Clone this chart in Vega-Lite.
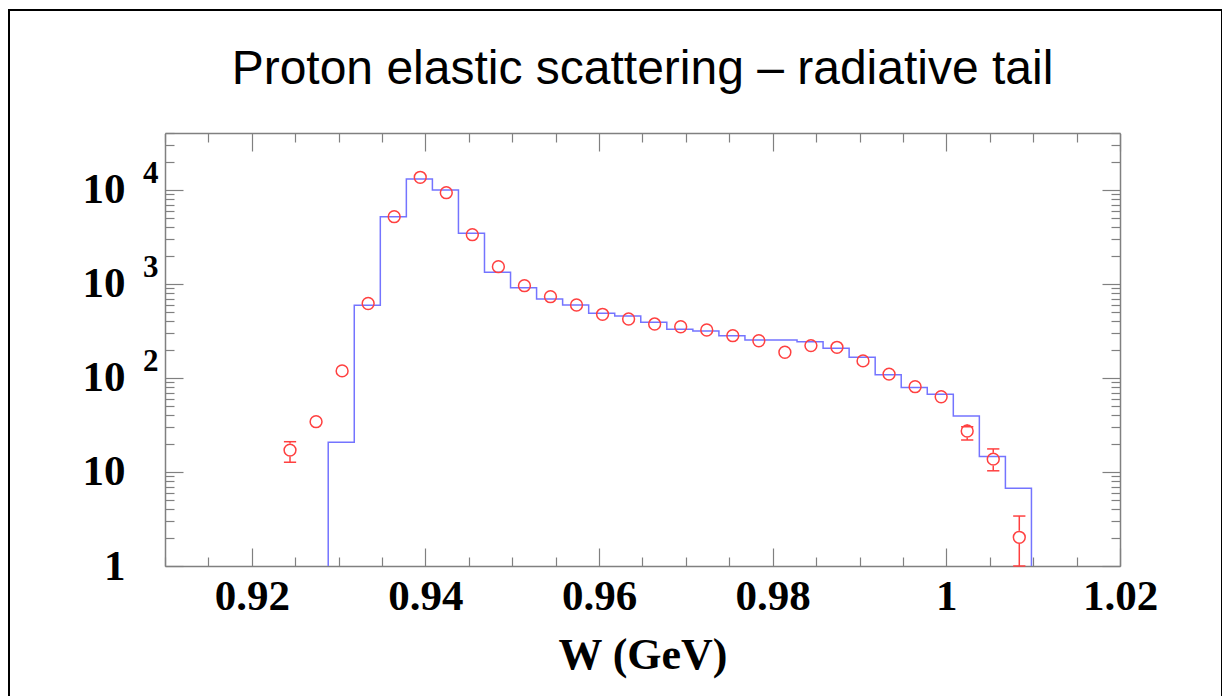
{
  "$schema": "https://vega.github.io/schema/vega-lite/v6.json",
  "width": 1213,
  "height": 689,
  "autosize": {"type": "none"},
  "padding": {"left": 9, "top": 10, "right": 0, "bottom": -3},
  "background": "white",
  "config": {
    "view": {"stroke": "black", "strokeWidth": 2},
    "axis": {
      "grid": false,
      "labelFont": "Liberation Serif",
      "labelFontWeight": "bold",
      "labelColor": "black",
      "titleFont": "Liberation Serif",
      "titleFontWeight": "bold",
      "titleColor": "black",
      "domainColor": "#808080",
      "domainWidth": 1.5,
      "tickColor": "#808080",
      "tickWidth": 1.2,
      "labelOverlap": false,
      "labelFlush": false
    }
  },
  "title": {
    "text": "Proton elastic scattering – radiative tail",
    "font": "Liberation Sans",
    "fontSize": 48,
    "fontWeight": "normal",
    "color": "black",
    "anchor": "middle",
    "frame": "group",
    "offset": -75,
    "baseline": "alphabetic",
    "dx": 27,
    "dy": 47
  },
  "datasets": {
    "hist": [
      {"W": 0.9288, "N": 1},
      {"W": 0.9288, "N": 20.7},
      {"W": 0.9318, "N": 593},
      {"W": 0.9348, "N": 5200},
      {"W": 0.9378, "N": 13100},
      {"W": 0.9408, "N": 10000},
      {"W": 0.9438, "N": 3460},
      {"W": 0.9468, "N": 1332},
      {"W": 0.9498, "N": 914},
      {"W": 0.9528, "N": 692},
      {"W": 0.9558, "N": 598},
      {"W": 0.9588, "N": 488},
      {"W": 0.9618, "N": 457},
      {"W": 0.9648, "N": 392},
      {"W": 0.9678, "N": 330},
      {"W": 0.9708, "N": 316},
      {"W": 0.9738, "N": 282},
      {"W": 0.9768, "N": 254},
      {"W": 0.9798, "N": 254},
      {"W": 0.9828, "N": 243},
      {"W": 0.9858, "N": 207},
      {"W": 0.9888, "N": 166},
      {"W": 0.9918, "N": 108},
      {"W": 0.9948, "N": 79},
      {"W": 0.9978, "N": 67},
      {"W": 1.0008, "N": 39.4},
      {"W": 1.0038, "N": 14.6},
      {"W": 1.0068, "N": 6.7},
      {"W": 1.0098, "N": 6.7},
      {"W": 1.0098, "N": 1}
    ],
    "pts": [
      {"W": 0.9244, "N": 17.1, "lo": 12.7, "hi": 21.0},
      {"W": 0.9274, "N": 34.3},
      {"W": 0.9304, "N": 119},
      {"W": 0.9334, "N": 620},
      {"W": 0.9364, "N": 5200},
      {"W": 0.9394, "N": 13650},
      {"W": 0.9424, "N": 9360},
      {"W": 0.9454, "N": 3345},
      {"W": 0.9484, "N": 1528},
      {"W": 0.9514, "N": 959},
      {"W": 0.9544, "N": 733},
      {"W": 0.9574, "N": 598},
      {"W": 0.9604, "N": 476},
      {"W": 0.9634, "N": 424},
      {"W": 0.9664, "N": 375},
      {"W": 0.9694, "N": 351},
      {"W": 0.9724, "N": 324},
      {"W": 0.9754, "N": 282},
      {"W": 0.9784, "N": 249},
      {"W": 0.9814, "N": 188},
      {"W": 0.9844, "N": 221},
      {"W": 0.9874, "N": 212},
      {"W": 0.9904, "N": 152},
      {"W": 0.9934, "N": 110},
      {"W": 0.9964, "N": 80.8},
      {"W": 0.9994, "N": 63.2},
      {"W": 1.0024, "N": 27.3, "lo": 21.9, "hi": 30.3},
      {"W": 1.0054, "N": 13.7, "lo": 10.3, "hi": 17.6},
      {"W": 1.0084, "N": 2.02, "lo": 1, "hi": 3.4}
    ]
  },
  "layer": [
    {
      "data": {"name": "hist"},
      "mark": {"type": "line", "interpolate": "step-after", "color": "#7474ff", "strokeWidth": 1.5},
      "encoding": {
        "x": {
          "field": "W", "type": "quantitative",
          "scale": {"type": "linear", "domain": [0.91, 1.02], "range": [156, 1111], "nice": false, "zero": false},
          "axis": {
            "orient": "bottom", "offset": -133,
            "values": [0.91, 0.915, 0.92, 0.925, 0.93, 0.935, 0.94, 0.945, 0.95, 0.955, 0.96, 0.965, 0.97, 0.975, 0.98, 0.985, 0.99, 0.995, 1, 1.005, 1.01, 1.015, 1.02],
            "ticks": false, "domain": true, "format": "~g",
            "labelExpr": "abs(datum.value*50 - round(datum.value*50)) < 0.001 ? datum.label : ''",
            "labelFontSize": 43, "labelBaseline": "alphabetic", "labelPadding": 43, "labelAlign": "center",
            "title": "W (GeV)", "titleFontSize": 44, "titleBaseline": "alphabetic", "titleY": 102
          }
        },
        "y": {
          "field": "N", "type": "quantitative",
          "scale": {"type": "log", "domain": [1, 40000], "range": [556, 123.4], "nice": false},
          "axis": {
            "orient": "left", "offset": -156,
            "values": [1, 10, 100, 1000, 10000],
            "ticks": false, "domain": true,
            "labelExpr": "datum.value == 1 ? '1' : '10'",
            "labelFontSize": 43, "labelPadding": 40, "title": null
          }
        },
        "order": {"value": null}
      }
    },
    {
      "data": {"name": "pts"},
      "mark": {"type": "point", "shape": "circle", "filled": false, "size": 140, "stroke": "#ff4040", "strokeWidth": 1.5, "opacity": 1},
      "encoding": {
        "x": {
          "field": "W", "type": "quantitative",
          "scale": {"type": "linear", "domain": [0.91, 1.02], "range": [156, 1111], "nice": false, "zero": false},
          "axis": {
            "orient": "top", "offset": -123,
            "values": [0.91, 0.915, 0.92, 0.925, 0.93, 0.935, 0.94, 0.945, 0.95, 0.955, 0.96, 0.965, 0.97, 0.975, 0.98, 0.985, 0.99, 0.995, 1, 1.005, 1.01, 1.015, 1.02],
            "labels": false, "domain": true,
            "tickSize": {"condition": {"test": "abs(datum.value*50 - round(datum.value*50)) < 0.001", "value": -18}, "value": -9},
            "title": null
          }
        },
        "y": {
          "field": "N", "type": "quantitative",
          "scale": {"type": "log", "domain": [1, 40000], "range": [556, 123.4], "nice": false},
          "axis": {
            "orient": "right", "offset": -102,
            "values": [1, 2, 3, 4, 5, 6, 7, 8, 9, 10, 20, 30, 40, 50, 60, 70, 80, 90, 100, 200, 300, 400, 500, 600, 700, 800, 900, 1000, 2000, 3000, 4000, 5000, 6000, 7000, 8000, 9000, 10000, 20000, 30000, 40000],
            "labels": false, "domain": true,
            "tickSize": {"condition": {"test": "abs(log(datum.value)/LN10 - round(log(datum.value)/LN10)) < 0.001", "value": -18}, "value": -9},
            "title": null
          }
        }
      }
    },
    {
      "data": {"name": "pts"},
      "transform": [{"filter": "isValid(datum.hi)"}],
      "mark": {"type": "rule", "color": "#ff4040", "strokeWidth": 1.5, "yOffset": -6.5},
      "encoding": {
        "x": {
          "field": "W", "type": "quantitative",
          "scale": {"type": "linear", "domain": [0.91, 1.02], "range": [156, 1111], "nice": false, "zero": false},
          "axis": {
            "orient": "bottom", "offset": -133,
            "values": [0.91, 0.915, 0.92, 0.925, 0.93, 0.935, 0.94, 0.945, 0.95, 0.955, 0.96, 0.965, 0.97, 0.975, 0.98, 0.985, 0.99, 0.995, 1, 1.005, 1.01, 1.015, 1.02],
            "labels": false, "domain": false,
            "tickSize": {"condition": {"test": "abs(datum.value*50 - round(datum.value*50)) < 0.001", "value": -18}, "value": -9},
            "title": null
          }
        },
        "y": {
          "field": "N", "type": "quantitative",
          "scale": {"type": "log", "domain": [1, 40000], "range": [556, 123.4], "nice": false},
          "axis": {
            "orient": "left", "offset": -156,
            "values": [1, 2, 3, 4, 5, 6, 7, 8, 9, 10, 20, 30, 40, 50, 60, 70, 80, 90, 100, 200, 300, 400, 500, 600, 700, 800, 900, 1000, 2000, 3000, 4000, 5000, 6000, 7000, 8000, 9000, 10000, 20000, 30000, 40000],
            "labels": false, "domain": false,
            "tickSize": {"condition": {"test": "abs(log(datum.value)/LN10 - round(log(datum.value)/LN10)) < 0.001", "value": -18}, "value": -9},
            "title": null
          }
        },
        "y2": {"field": "hi"}
      }
    },
    {
      "data": {"name": "pts"},
      "transform": [{"filter": "isValid(datum.lo)"}],
      "mark": {"type": "rule", "color": "#ff4040", "strokeWidth": 1.5, "yOffset": 6.5},
      "encoding": {
        "x": {
          "field": "W", "type": "quantitative",
          "scale": {"type": "linear", "domain": [0.91, 1.02], "range": [156, 1111], "nice": false, "zero": false},
          "axis": null
        },
        "y": {
          "field": "N", "type": "quantitative",
          "scale": {"type": "log", "domain": [1, 40000], "range": [556, 123.4], "nice": false},
          "axis": {
            "orient": "left", "offset": -156,
            "values": [100, 1000, 10000],
            "ticks": false, "domain": false,
            "labelExpr": "datum.value == 100 ? '2' : (datum.value == 1000 ? '3' : '4')",
            "labelFontSize": 31, "labelPadding": 7, "labelOffset": -16, "labelAlign": "right",
            "title": null
          }
        },
        "y2": {"field": "lo"}
      }
    },
    {
      "data": {"name": "pts"},
      "transform": [
        {"filter": "isValid(datum.lo)"},
        {"fold": ["lo", "hi"], "as": ["end", "E"]}
      ],
      "mark": {"type": "point", "shape": "M-1,0L1,0", "filled": false, "size": 150, "stroke": "#ff4040", "strokeWidth": 1.5, "opacity": 1},
      "encoding": {
        "x": {
          "field": "W", "type": "quantitative",
          "scale": {"type": "linear", "domain": [0.91, 1.02], "range": [156, 1111], "nice": false, "zero": false},
          "axis": null
        },
        "y": {
          "field": "E", "type": "quantitative",
          "scale": {"type": "log", "domain": [1, 40000], "range": [556, 123.4], "nice": false},
          "axis": null
        }
      }
    }
  ],
  "resolve": {"axis": {"x": "independent", "y": "independent"}}
}
